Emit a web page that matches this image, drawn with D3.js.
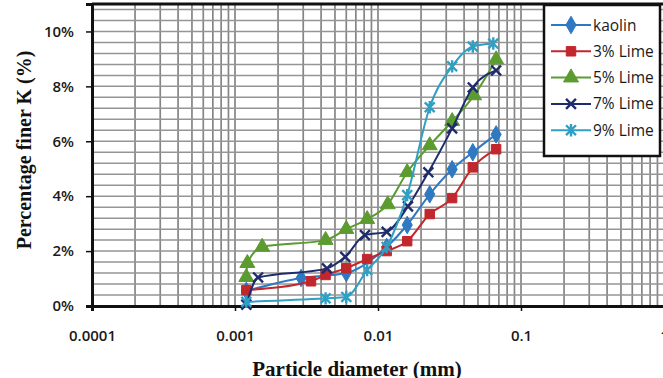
<!DOCTYPE html>
<html>
<head>
<meta charset="utf-8">
<script src="https://cdn.jsdelivr.net/npm/d3@7"></script>
<style>
  body { margin: 0; background: #fff; }
  svg { display: block; }
</style>
</head>
<body>
<svg></svg>
<script>
const width = 663;
const height = 378;
const margin = {top: 4, right: -1, left: 92, bottom: 72};
const innerWidth = width - margin.left - margin.right;
const innerHeight = height - margin.top - margin.bottom;

// data (percent finer vs particle diameter in mm)
const seriesNames = ['kaolin', '3% Lime', '5% Lime', '7% Lime', '9% Lime'];
const kaolinD = [0.0012, 0.0029, 0.006, 0.0115, 0.016, 0.023, 0.033, 0.046, 0.067];
const kaolinP = [0.55, 1.02, 1.2, 2.15, 2.95, 4.07, 4.98, 5.6, 6.25];
const lime3D = [0.0012, 0.0034, 0.0043, 0.006, 0.0084, 0.0115, 0.016, 0.023, 0.033, 0.046, 0.067];
const lime3P = [0.58, 0.9, 1.13, 1.38, 1.71, 2.0, 2.36, 3.35, 3.93, 5.05, 5.71];
const lime5D = [0.0012, 0.00122, 0.00155, 0.0043, 0.006, 0.0084, 0.0117, 0.016, 0.023, 0.033, 0.047, 0.067];
const lime5P = [1.05, 1.56, 2.15, 2.4, 2.8, 3.16, 3.7, 4.87, 5.85, 6.73, 7.67, 8.98];
const lime7D = [0.0012, 0.00145, 0.0044, 0.0059, 0.0081, 0.0115, 0.0162, 0.0225, 0.033, 0.046, 0.067];
const lime7P = [0.05, 1.04, 1.37, 1.79, 2.58, 2.7, 3.63, 4.87, 6.47, 7.96, 8.58];
const lime9D = [0.0012, 0.0043, 0.006, 0.0084, 0.0115, 0.016, 0.023, 0.033, 0.046, 0.064];
const lime9P = [0.15, 0.28, 0.33, 1.31, 2.15, 4.04, 7.24, 8.73, 9.45, 9.56];
const xTicks = [0.0001, 0.001, 0.01, 0.1, 1];
const yTicks = [0, 2, 4, 6, 8, 10];

const colors = ['#2f79c2', '#c1272d', '#5b9b30', '#1f2c6c', '#2fa0c4'];
const shapes = ['diamond', 'square', 'triangle', 'x', 'star'];

const series = [
  [kaolinD, kaolinP], [lime3D, lime3P], [lime5D, lime5P], [lime7D, lime7P], [lime9D, lime9P]
].map((s, i) => ({
  name: seriesNames[i], color: colors[i], shape: shapes[i],
  values: s[0].map((d, j) => ({d: d, p: s[1][j]}))
}));

const svg = d3.select('svg')
  .attr('width', width)
  .attr('height', height);

const xScale = d3.scaleLog().domain([0.0001, 1]).range([0, innerWidth]);
const yScale = d3.scaleLinear().domain([0, 11]).range([innerHeight, 0]);

const g = svg.append('g')
  .attr('transform', `translate(${margin.left}, ${margin.top})`);

// grid lines
const minorX = [];
for (let e = -4; e < 0; e++) {
  for (let k = 1; k < 10; k++) minorX.push(k * Math.pow(10, e));
}
g.append('g').selectAll('line').data(minorX).enter().append('line')
  .attr('x1', d => xScale(d)).attr('x2', d => xScale(d))
  .attr('y1', 0).attr('y2', innerHeight)
  .attr('stroke', '#858585').attr('stroke-width', 1.7);

g.append('g').selectAll('line').data(d3.range(0, 11.01, 0.4)).enter().append('line')
  .attr('x1', 0).attr('x2', innerWidth)
  .attr('y1', d => yScale(d)).attr('y2', d => yScale(d))
  .attr('stroke', '#959595').attr('stroke-width', 1.5);

// top border
g.append('line').attr('x1', 0).attr('x2', innerWidth).attr('y1', 0).attr('y2', 0)
  .attr('stroke', '#111').attr('stroke-width', 3);

// axes
const yAxis = g.append('g')
  .call(d3.axisLeft(yScale).tickValues(yTicks).tickFormat(d => d + '%').tickSize(6).tickPadding(12));
const xAxis = g.append('g')
  .attr('transform', `translate(0, ${innerHeight})`)
  .call(d3.axisBottom(xScale).tickValues(xTicks).tickFormat(d => String(d)).tickSize(5).tickPadding(19));

[yAxis, xAxis].forEach(a => {
  a.select('.domain').attr('stroke', '#111').attr('stroke-width', 3);
  a.selectAll('.tick line').attr('stroke', '#111').attr('stroke-width', 1.5);
  a.selectAll('text')
    .attr('fill', '#1a1a1a')
    .style('font-family', '"Open Sans", sans-serif')
    .style('font-size', '15px')
    .style('font-weight', '600');
});

// lines
const line = d3.line()
  .x(d => xScale(d.d))
  .y(d => yScale(d.p))
  .curve(d3.curveMonotoneX);

const markerPath = (shape, s) => {
  if (shape === 'diamond') return d3.symbol(d3.symbolDiamond, s * s * 1.1)();
  if (shape === 'square') return d3.symbol(d3.symbolSquare, s * s * 1.1)();
  if (shape === 'triangle') return d3.symbol(d3.symbolTriangle, s * s * 1.2)();
  const h = s * 0.55;
  if (shape === 'x') return `M${-h},${-h}L${h},${h}M${-h},${h}L${h},${-h}`;
  return `M${-h},${-h}L${h},${h}M${-h},${h}L${h},${-h}M0,${-h * 1.25}L0,${h * 1.25}`;
};

series.forEach(s => {
  g.append('path').datum(s.values)
    .attr('d', line)
    .attr('fill', 'none')
    .attr('stroke', s.color)
    .attr('stroke-width', 2);
  g.append('g').selectAll('path').data(s.values).enter().append('path')
    .attr('transform', d => `translate(${xScale(d.d)}, ${yScale(d.p)})`)
    .attr('d', markerPath(s.shape, 9))
    .attr('fill', s.color)
    .attr('stroke', s.color)
    .attr('stroke-width', (s.shape === 'x' || s.shape === 'star') ? 2.4 : 1);
});

// legend
const legend = svg.append('g').attr('transform', 'translate(544, 5)');
legend.append('rect')
  .attr('width', 116).attr('height', 151)
  .attr('fill', '#fff').attr('stroke', '#111').attr('stroke-width', 2.5);
const items = legend.selectAll('.item').data(series).enter().append('g')
  .attr('transform', (d, i) => `translate(0, ${20 + i * 26.3})`);
items.append('line')
  .attr('x1', 7).attr('x2', 47)
  .attr('stroke', d => d.color).attr('stroke-width', 2);
items.append('path')
  .attr('transform', 'translate(27, 0)')
  .attr('d', d => markerPath(d.shape, 9))
  .attr('fill', d => d.color).attr('stroke', d => d.color)
  .attr('stroke-width', d => (d.shape === 'x' || d.shape === 'star') ? 2.4 : 1);
items.append('text')
  .attr('x', 49).attr('y', 5.5)
  .text(d => d.name)
  .attr('fill', '#1a1a1a')
  .style('font-family', '"Open Sans", sans-serif')
  .style('font-size', '15.5px');

// axis titles
svg.append('text')
  .attr('x', 357).attr('y', 376)
  .attr('text-anchor', 'middle')
  .style('font-family', '"Liberation Serif", serif')
  .style('font-weight', 'bold')
  .style('font-size', '21px')
  .attr('fill', '#111')
  .text('Particle diameter (mm)');

svg.append('text')
  .attr('transform', 'translate(31, 150) rotate(-90)')
  .attr('text-anchor', 'middle')
  .style('font-family', '"Liberation Serif", serif')
  .style('font-weight', 'bold')
  .style('font-size', '20px')
  .attr('fill', '#111')
  .text('Percentage finer K (%)');
</script>
</body>
</html>
